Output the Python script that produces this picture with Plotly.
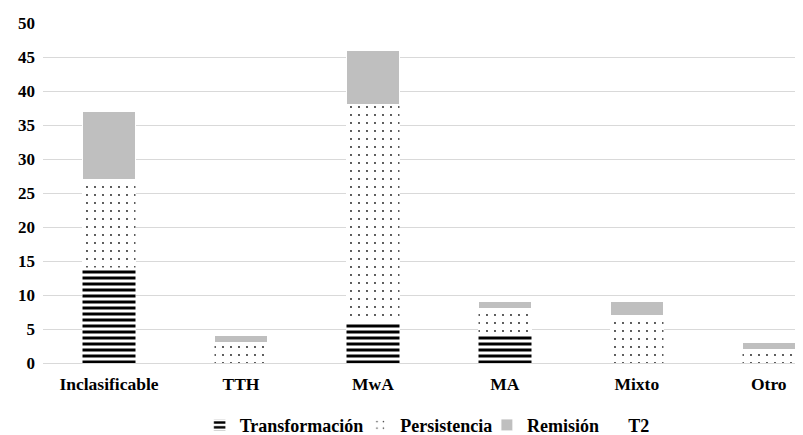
import plotly.graph_objects as go

categories = ["Inclasificable", "TTH", "MwA", "MA", "Mixto", "Otro"]
transformacion = [14, 0, 6, 4, 0, 0]
persistencia = [13, 3, 32, 4, 7, 2]
remision = [10, 1, 8, 1, 2, 1]
t2 = [0, 0, 0, 0, 0, 0]
y_ticks = [0, 5, 10, 15, 20, 25, 30, 35, 40, 45, 50]

FONT = "Liberation Serif, Times New Roman, serif"

fig = go.Figure()
fig.add_trace(go.Bar(
    name="Transformación", x=categories, y=transformacion, legend="legend",
    marker=dict(color="white", line=dict(color="white", width=0.5),
                pattern=dict(shape="-", fgcolor="black", bgcolor="white",
                             size=6, solidity=0.5, fgopacity=1, fillmode="replace")),
))
fig.add_trace(go.Bar(
    name="Persistencia", x=categories, y=persistencia, legend="legend2",
    marker=dict(color="white", line=dict(color="white", width=0.5),
                pattern=dict(shape=".", fgcolor="#111111", bgcolor="white",
                             size=8, solidity=0.04, fgopacity=1, fillmode="replace")),
))
fig.add_trace(go.Bar(
    name="Remisión", x=categories, y=remision, legend="legend3",
    marker=dict(color="#bfbfbf", line=dict(color="white", width=1)),
))
fig.add_trace(go.Bar(
    name="T2", x=categories, y=t2, legend="legend4",
    marker=dict(color="rgba(0,0,0,0)", line=dict(width=0)),
))

legend_font = dict(family=FONT, size=18, color="black", weight="bold")


def leg(xpos):
    return dict(orientation="h", x=xpos, xanchor="left", y=-0.183, yanchor="middle",
                font=legend_font, itemwidth=30, bgcolor="rgba(0,0,0,0)")


fig.update_layout(
    width=803, height=435,
    margin=dict(l=35, r=0, t=15, b=80, autoexpand=False),
    barmode="stack", bargap=0.595,
    plot_bgcolor="white", paper_bgcolor="white",
    font=dict(family=FONT, size=17, color="black", weight="bold"),
    showlegend=True,
    legend=leg(0.204),
    legend2=leg(0.413),
    legend3=leg(0.578),
    legend4=leg(0.710),
)
fig.update_xaxes(
    type="category", range=[-0.5, 5.32],
    showgrid=False, showline=False, ticks="", ticklabelstandoff=8,
    tickfont=dict(family=FONT, size=17.5, color="black", weight="bold"),
)
fig.update_yaxes(
    range=[0, 50], tickvals=y_ticks,
    showgrid=True, gridcolor="#d9d9d9", gridwidth=1,
    zeroline=True, zerolinecolor="#d9d9d9", zerolinewidth=1,
    showline=False, ticks="", ticklabelstandoff=7,
    tickfont=dict(family=FONT, size=17, color="black", weight="bold"),
)

fig.write_html("out.html")
